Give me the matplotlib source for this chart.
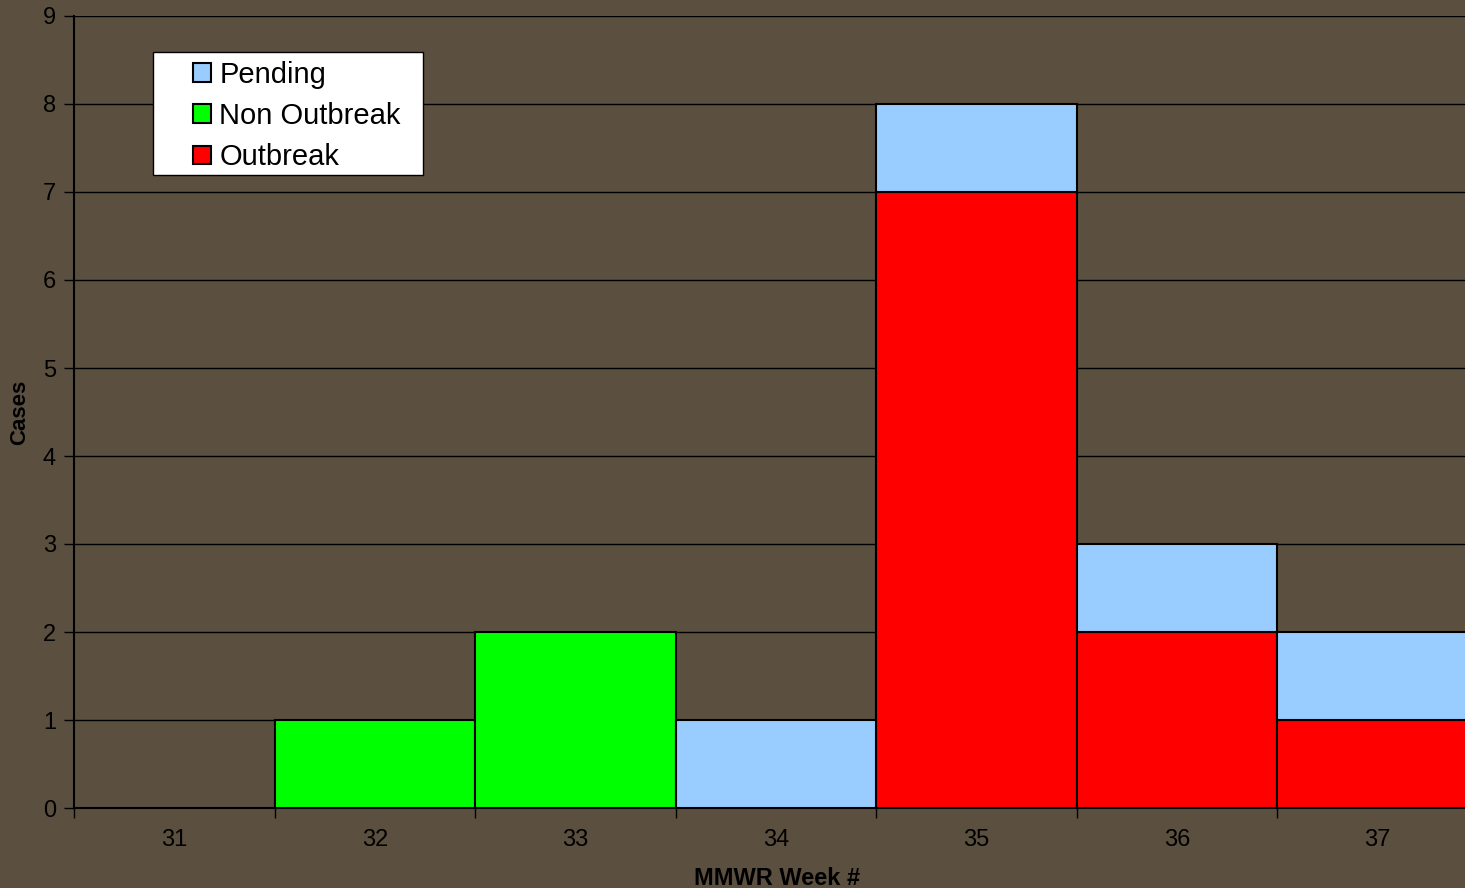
import matplotlib
matplotlib.use("Agg")
import matplotlib.pyplot as plt
from matplotlib.patches import Patch, Rectangle
import numpy as np

weeks = ["31", "32", "33", "34", "35", "36", "37"]
outbreak = [0, 0, 0, 0, 7, 2, 1]
non_outbreak = [0, 1, 2, 0, 0, 0, 0]
pending = [0, 0, 0, 1, 1, 1, 1]

BG = "#5b4f3f"
RED = "#ff0000"
GREEN = "#00ff00"
BLUE = "#99ccff"

plt.rcParams["font.family"] = ["Liberation Sans", "DejaVu Sans"]

W, H = 1465, 888
fig = plt.figure(figsize=(W / 100, H / 100), dpi=100, facecolor=BG)
ax = fig.add_axes([74 / W, 80 / H, 1404 / W, 792 / H])
ax.set_facecolor(BG)

x = np.arange(len(weeks))
o = np.array(outbreak)
n = np.array(non_outbreak)
p = np.array(pending)

kw = dict(width=1.0, edgecolor="black", linewidth=1.5, zorder=3)
ax.bar(x, o, color=RED, **kw)
ax.bar(x, n, bottom=o, color=GREEN, **kw)
ax.bar(x, p, bottom=o + n, color=BLUE, **kw)

# hide zero-height bar outlines
for patch in ax.patches:
    if patch.get_height() == 0:
        patch.set_visible(False)

ax.set_xlim(-0.5, len(weeks) - 0.5)
ax.set_ylim(0, 9)
ax.set_yticks(range(0, 10))
ax.yaxis.grid(True, color="black", linewidth=1.0, zorder=0)
ax.set_axisbelow(True)

# category boundaries carry tick marks, labels sit at the centres
ax.set_xticks(np.arange(-0.5, len(weeks) + 0.5, 1.0))
ax.set_xticklabels([])
ax.set_xticks(x, minor=True)
ax.set_xticklabels(weeks, minor=True)
ax.tick_params(axis="x", which="major", direction="out", length=7, width=1, color="black")
ax.tick_params(axis="x", which="minor", length=0, pad=15, labelsize=17, labelcolor="black")
ax.tick_params(axis="y", direction="out", length=7, width=1, color="black",
               labelsize=17, labelcolor="black", pad=6)

for side in ("top", "right"):
    ax.spines[side].set_visible(False)
for side in ("left", "bottom"):
    ax.spines[side].set_color("black")
    ax.spines[side].set_linewidth(1.5)

fig.text(20 / W, 1 - 412 / H, "Cases", fontsize=16, fontweight="bold",
         rotation=90, ha="center", va="center", color="black")
fig.text(777 / W, 1 - 878 / H, "MMWR Week #", fontsize=17, fontweight="bold",
         ha="center", va="center", color="black")

# legend box
fig.patches.append(Rectangle((153 / W, 1 - 175 / H), 270 / W, 123 / H,
                             transform=fig.transFigure, facecolor="white",
                             edgecolor="black", linewidth=1.0, zorder=5))
handles = [
    Patch(facecolor=BLUE, edgecolor="black", linewidth=1.5, label="Pending"),
    Patch(facecolor=GREEN, edgecolor="black", linewidth=1.5, label="Non Outbreak"),
    Patch(facecolor=RED, edgecolor="black", linewidth=1.5, label="Outbreak"),
]
leg = fig.legend(handles=handles, loc="center left",
                 bbox_to_anchor=(193 / W, 1 - 116 / H),
                 fontsize=21, frameon=False,
                 handlelength=0.6, handleheight=0.6, handletextpad=0.3,
                 borderpad=0, labelspacing=0.45, borderaxespad=0)
leg.set_zorder(6)

fig.savefig("out.png", dpi=100, facecolor=BG)
